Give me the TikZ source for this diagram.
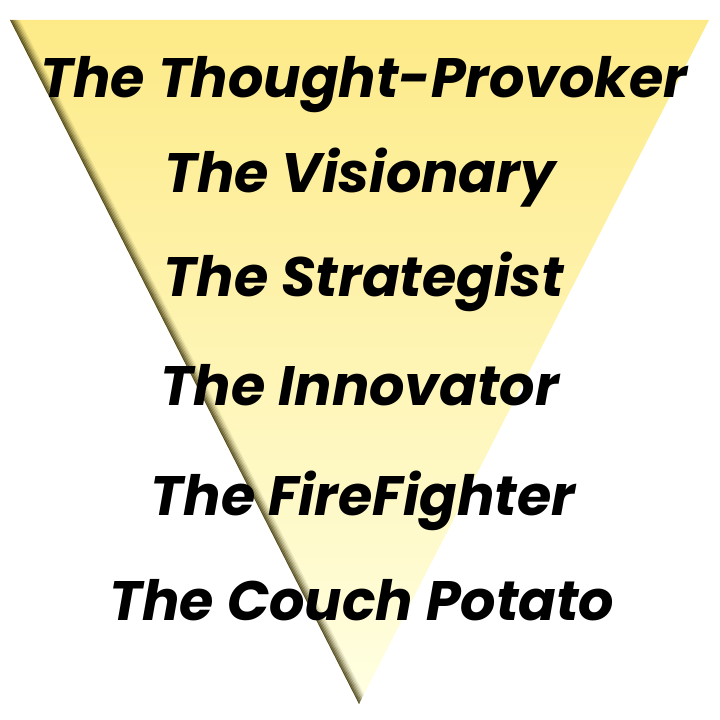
\documentclass[tikz,border=0pt]{standalone}
\usepackage{fontspec}
\setmainfont{Poppins}
\usepackage{tikz}
\usetikzlibrary{positioning, calc}

\definecolor{funneltop}{RGB}{253,234,135}
\definecolor{funnelbottom}{RGB}{255,255,226}
\definecolor{bevel}{RGB}{70,62,20}

\begin{document}
\begin{tikzpicture}[
        x=0.025cm, y=-0.025cm,
        role/.style={inner sep=0pt, anchor=base, font=\fontsize{39.5}{44}\selectfont\bfseries\itshape, text=black},
        every node/.style={inner sep=5pt}
    ]
    \useasboundingbox (0,0) rectangle (720,720);

    % --- Funnel ---
    \coordinate (tl) at (10,20);
    \coordinate (tr) at (709,20);
    \coordinate (tip) at (359,704);
    \shade[top color=funneltop, bottom color=funnelbottom] (tl) -- (tr) -- (tip) -- cycle;

    % --- Bevel on the left edge ---
    \begin{scope}
        \clip (tl) -- (tr) -- (tip) -- cycle;
        \foreach \i/\op in {0/0.85, 1.5/0.7, 3/0.55, 4.5/0.4, 6/0.27, 7.5/0.16, 9/0.08}
            \draw[line width=1.2pt, bevel, opacity=\op] ($(tl)+(\i,0)$) -- ($(tip)+(\i,0)$);
    \end{scope}

    % --- Roles ---
    \node[role] (provoker) at (364,98) {The Thought-Provoker};
    \node[role] (visionary) at (360,193) {The Visionary};
    \node[role] (strategist) at (364,297) {The Strategist};
    \node[role] (innovator) at (360,405) {The Innovator};
    \node[role] (firefighter) at (363,515) {The FireFighter};
    \node[role] (couch) at (362,620) {The Couch Potato};
\end{tikzpicture}
\end{document}
